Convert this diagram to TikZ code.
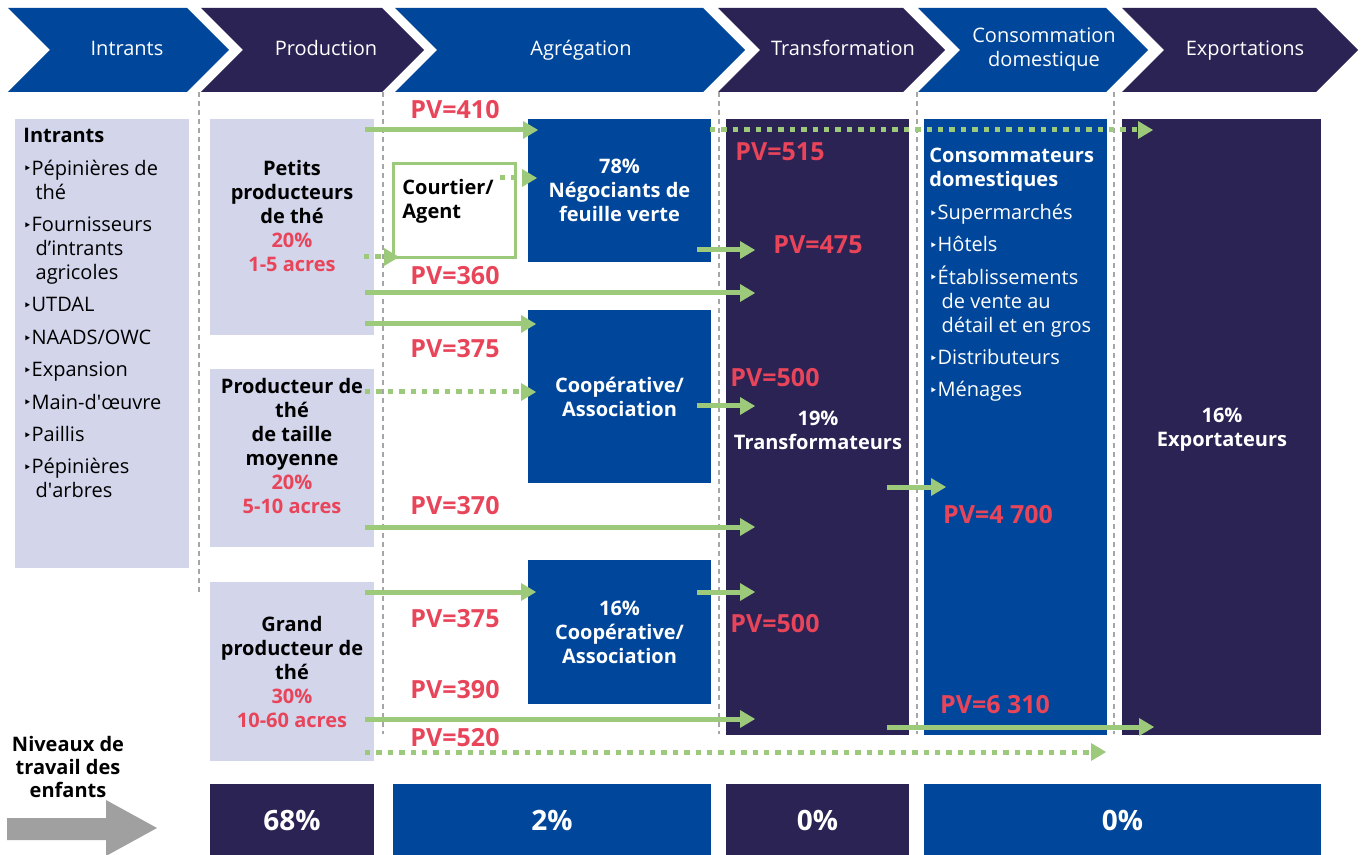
\documentclass[tikz,border=0pt]{standalone}
\usepackage{fontspec}
\setmainfont{Open Sans}
\newfontfamily\symfont{DejaVu Sans}
\usepackage{tikz}
\usetikzlibrary{arrows.meta}

\definecolor{vcblue}{RGB}{0,71,155}
\definecolor{vcdark}{RGB}{42,35,84}
\definecolor{vclav}{RGB}{211,213,235}
\definecolor{vcgreen}{RGB}{157,201,123}
\definecolor{vcred}{RGB}{232,68,90}
\definecolor{vcgrey}{RGB}{166,166,166}
\definecolor{vcarrow}{RGB}{160,160,160}

\newcommand{\tb}{\raisebox{0.6pt}{\symfont\fontsize{7}{7}\selectfont ‣}}
\newcommand{\ti}{\phantom{\tb}\hspace{2pt}}

\tikzset{
  vcbox/.style={anchor=north west, inner sep=0pt, outer sep=0pt, text=white, align=center, font=\bfseries\fontsize{10}{12}\selectfont},
  blubox/.style={vcbox, fill=vcblue},
  dkbox/.style={vcbox, fill=vcdark},
  lavbox/.style={vcbox, fill=vclav, text=black},
  headtxt/.style={text=white, align=center, anchor=base, font=\fontsize{10}{12}\selectfont},
  boldtxt/.style={align=center, font=\bfseries\fontsize{10}{12}\selectfont},
  lst/.style={anchor=north west, inner sep=0pt, align=left, font=\fontsize{10}{12}\selectfont},
  pv/.style={text=vcred, inner sep=0pt, font=\bfseries\fontsize{12.5}{15}\selectfont},
  bigtxt/.style={font=\bfseries\fontsize{14}{16}\selectfont},
  flow/.style={draw=vcgreen, line width=2.5pt, -{Triangle[length=7.5pt, width=9pt, line width=0pt]}, shorten <=-4.5pt},
  dflow/.style={flow, dash pattern=on 2.7pt off 3pt},
  sepline/.style={draw=vcgrey, line width=1.3pt, dash pattern=on 2.5pt off 2pt},
}

\begin{document}
\begin{tikzpicture}[x=0.5pt, y=-0.5pt]
\useasboundingbox (0,0) rectangle (1365,855);

% header chevrons
\fill[vcblue] (8,8) -- (187,8) -- (229,50) -- (187,92) -- (8,92) -- (50,50) -- cycle;
\fill[vcdark] (201,8) -- (382,8) -- (424,50) -- (382,92) -- (201,92) -- (243,50) -- cycle;
\fill[vcblue] (395,8) -- (703,8) -- (745,50) -- (703,92) -- (395,92) -- (437,50) -- cycle;
\fill[vcdark] (718,8) -- (903,8) -- (945,50) -- (903,92) -- (718,92) -- (760,50) -- cycle;
\fill[vcblue] (918,8) -- (1106,8) -- (1148,50) -- (1106,92) -- (918,92) -- (960,50) -- cycle;
\fill[vcdark] (1122,8) -- (1316,8) -- (1358,50) -- (1316,92) -- (1122,92) -- (1164,50) -- cycle;
\node[headtxt] (hintr) at (127,56) {Intrants};
\node[headtxt] (hprod) at (326,56) {Production};
\node[headtxt] (hagr) at (581,56) {Agrégation};
\node[headtxt] (htrans) at (843,56) {Transformation};
\node[headtxt, anchor=center] (hconso) at (1044,50) {Consommation\\domestique};
\node[headtxt] (hexpo) at (1245,56) {Exportations};

% separators
\draw[sepline] (199,92) -- (199,592);
\draw[sepline] (383,92) -- (383,734);
\draw[sepline] (719,92) -- (719,734);
\draw[sepline] (917,92) -- (917,734);
\draw[sepline] (1114,92) -- (1114,734);

% boxes
\node[lavbox, minimum width=87pt, minimum height=224.5pt] (intr) at (15,119) {};
\node[lavbox, minimum width=82pt, minimum height=108pt] (petits) at (210,119) {};
\node[lavbox, minimum width=82pt, minimum height=89pt] (moyen) at (210,369) {};
\node[lavbox, minimum width=82pt, minimum height=89.5pt] (grand) at (210,582)
  {Grand\\producteur de\\thé\\\textcolor{vcred}{30\%}\\\textcolor{vcred}{10-60 acres}};
\node[vcbox, draw=vcgreen, line width=1.5pt, fill=white, minimum width=61pt, minimum height=47pt] (courtier) at (393,164) {};
\node[blubox, minimum width=91.5pt, minimum height=71.5pt] (neg) at (528,119) {78\%\\Négociants de\\feuille verte};
\node[blubox, minimum width=91.5pt, minimum height=86.5pt] (coop1) at (528,310) {Coopérative/\\Association};
\node[blubox, minimum width=91.5pt, minimum height=72pt] (coop2) at (528,560) {16\%\\Coopérative/\\Association};
\node[dkbox, minimum width=91.5pt, minimum height=308pt] (trans) at (726,119) {};
\node[blubox, minimum width=91.5pt, minimum height=308pt] (conso) at (924,119) {};
\node[dkbox, minimum width=99.5pt, minimum height=308pt] (expo) at (1122,119) {};

% box texts
\node[lst] (intrtxt) at (23,128) {\textbf{Intrants}\\[4.2pt]
  \tb Pépinières de\\ \ti thé\\[4.2pt]
  \tb Fournisseurs\\ \ti d’intrants\\ \ti agricoles\\[4.2pt]
  \tb UTDAL\\[4.2pt] \tb NAADS/OWC\\[4.2pt] \tb Expansion\\[4.2pt]
  \tb Main-d\textquotesingle œuvre\\[4.2pt] \tb Paillis\\[4.2pt]
  \tb Pépinières\\ \ti d\textquotesingle arbres};
\node[boldtxt] (petitstxt) at (292,216) {Petits\\producteurs\\de thé\\\textcolor{vcred}{20\%}\\\textcolor{vcred}{1-5 acres}};
\node[boldtxt] (moyentxt) at (292,446) {Producteur de\\thé\\de taille\\moyenne\\\textcolor{vcred}{20\%}\\\textcolor{vcred}{5-10 acres}};
\node[boldtxt, align=left, anchor=west, inner sep=0pt] (courtiertxt) at (402,201) {Courtier/\\Agent};
\node[boldtxt, text=white] (transtxt) at (818,430) {19\%\\Transformateurs};
\node[boldtxt, text=white] (expotxt) at (1222,430) {16\%\\Exportateurs};
\node[lst, text=white] (consotxt) at (929,148) {\textbf{Consommateurs}\\ \textbf{domestiques}\\[4.2pt]
  \tb Supermarchés\\[4.2pt] \tb Hôtels\\[4.2pt]
  \tb Établissements\\ \ti de vente au\\ \ti détail et en gros\\[4.2pt]
  \tb Distributeurs\\[4.2pt] \tb Ménages};

% flows
\draw[flow, shorten >=-5pt] (petits.east |- 0,130) -- (neg.west |- 0,130);
\draw[dflow, shorten <=-0.5pt, shorten >=-15.5pt] (neg.east |- 0,130) -- (expo.west |- 0,130);
\draw[dflow, shorten <=-7.5pt, shorten >=-4.5pt] (courtier.east |- 0,178) -- (neg.west |- 0,178);
\draw[dflow, shorten <=-5pt, shorten >=-3pt] (petits.east |- 0,257) -- (courtier.west |- 0,257);
\draw[flow, shorten <=-7pt, shorten >=-14.5pt] (neg.east |- 0,250) -- (trans.west |- 0,250);
\draw[flow, shorten >=-14.5pt] (petits.east |- 0,293) -- (trans.west |- 0,293);
\draw[flow, shorten >=-4pt] (petits.east |- 0,324) -- (coop1.west |- 0,324);
\draw[dflow, shorten >=-4pt] (moyen.east |- 0,392) -- (coop1.west |- 0,392);
\draw[flow, shorten <=-7pt, shorten >=-14.5pt] (coop1.east |- 0,406) -- (trans.west |- 0,406);
\draw[flow, shorten >=-14.5pt] (moyen.east |- 0,527) -- (trans.west |- 0,527);
\draw[flow, shorten >=-4pt] (grand.east |- 0,592) -- (coop2.west |- 0,592);
\draw[flow, shorten <=-7pt, shorten >=-14.5pt] (coop2.east |- 0,592) -- (trans.west |- 0,592);
\draw[flow, shorten >=-14.5pt] (grand.east |- 0,719) -- (trans.west |- 0,719);
\draw[dflow, shorten >=0.5pt] (grand.east |- 0,752) -- (conso.east |- 0,752);
\draw[flow, shorten <=-11pt, shorten >=-11pt] (trans.east |- 0,487) -- (conso.west |- 0,487);
\draw[flow, shorten <=-11pt, shorten >=-16pt] (trans.east |- 0,727) -- (expo.west |- 0,727);

% prices
\node[pv] (pv410) at (455,110) {PV=410};
\node[pv] (pv515) at (780,152) {PV=515};
\node[pv] (pv475) at (818,245) {PV=475};
\node[pv] (pv360) at (455,276) {PV=360};
\node[pv] (pv375a) at (455,349) {PV=375};
\node[pv] (pv500a) at (775,378) {PV=500};
\node[pv] (pv370) at (455,506) {PV=370};
\node[pv] (pv375b) at (455,619) {PV=375};
\node[pv] (pv500b) at (775,624) {PV=500};
\node[pv] (pv390) at (455,690) {PV=390};
\node[pv] (pv520) at (455,738) {PV=520};
\node[pv] (pv4700) at (998,515) {PV=4 700};
\node[pv] (pv6310) at (995,705) {PV=6 310};

% child labour
\node[boldtxt, font=\bfseries\fontsize{10}{11.5}\selectfont] (niveaux) at (68,767) {Niveaux de\\travail des\\enfants};
\fill[vcarrow] (7,818) -- (106,818) -- (106,800) -- (157,828) -- (106,856) -- (106,840) -- (7,840) -- cycle;
\node[dkbox, bigtxt, minimum width=82pt, minimum height=36pt] (cl1) at (210,784) {68\%};
\node[blubox, bigtxt, minimum width=159pt, minimum height=36pt] (cl2) at (393,784) {2\%};
\node[dkbox, bigtxt, minimum width=91.5pt, minimum height=36pt] (cl3) at (726,784) {0\%};
\node[blubox, bigtxt, minimum width=198.5pt, minimum height=36pt] (cl4) at (924,784) {0\%};
\end{tikzpicture}
\end{document}
